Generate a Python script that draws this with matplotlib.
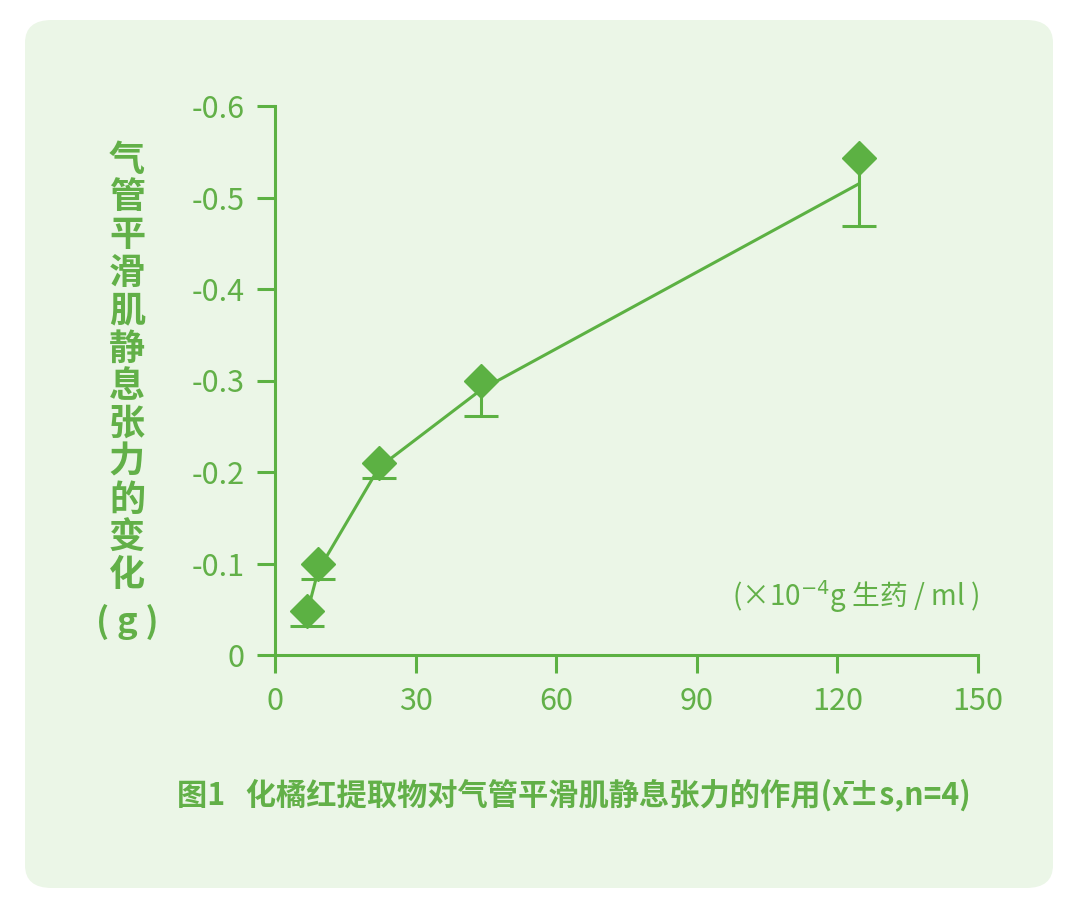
import matplotlib.pyplot as plt
from matplotlib.patches import FancyBboxPatch

plt.rcParams['font.family'] = ['Noto Sans CJK SC', 'DejaVu Sans']

# data
conc = [6.8, 9.2, 22.2, 44.0, 124.6]            # x10^-4 g crude drug / ml
mean = [-0.048, -0.100, -0.210, -0.300, -0.543]  # diamonds
fit = [-0.045, -0.092, -0.205, -0.290, -0.515]   # connecting line
sd_low = [0.016, 0.017, 0.017, 0.039, 0.074]     # lower error (towards 0)

x_ticks = [0, 30, 60, 90, 120, 150]
y_ticks = [0, -0.1, -0.2, -0.3, -0.4, -0.5, -0.6]
y_ticklabels = ['0', '-0.1', '-0.2', '-0.3', '-0.4', '-0.5', '-0.6']

green = '#5cb143'
text_green = '#62b048'

fig = plt.figure(figsize=(10.7, 9.08), dpi=100)
fig.patch.set_facecolor('white')

# rounded background panel
panel = FancyBboxPatch((25 / 1070, 20 / 908), 1028 / 1070, 868 / 908,
                       boxstyle='round,pad=0,rounding_size=0.025',
                       transform=fig.transFigure, facecolor='#ebf6e7',
                       edgecolor='none', zorder=-5)
fig.patches.append(panel)

ax = fig.add_axes([275 / 1070, 1 - 655 / 908, 703 / 1070, 549 / 908])
ax.patch.set_alpha(0)
ax.set_zorder(2)

ax.plot(conc, fit, color=green, lw=2.2, zorder=2)
# one-sided error bars, cap only at the far end
low = [m + s for m, s in zip(mean, sd_low)]
ax.vlines(conc, mean, low, color=green, lw=2.2, zorder=2)
ax.plot(conc, low, linestyle='none', marker='_', markersize=24,
        markeredgewidth=2.2, color=green, zorder=2)
ax.plot(conc, mean, linestyle='none', marker='D', markersize=17,
        color=green, markeredgecolor=green, zorder=3)

ax.set_xlim(0, 150)
ax.set_ylim(0, -0.6)
ax.set_xticks(x_ticks)
ax.set_yticks(y_ticks)
ax.set_yticklabels(y_ticklabels)

for s in ['top', 'right']:
    ax.spines[s].set_visible(False)
for s in ['left', 'bottom']:
    ax.spines[s].set_color(green)
    ax.spines[s].set_linewidth(2.2)
ax.tick_params(colors=green, width=2.2, length=13, labelsize=22,
               labelcolor=text_green, pad=9)

# vertical y label
ylab = '气管平滑肌静息张力的变化'
for i, ch in enumerate(ylab):
    fig.text(127 / 1070, 1 - (160 + i * 37.8) / 908, ch, ha='center',
             va='center', fontsize=26, fontweight='bold', color=text_green)
fig.text(127 / 1070, 1 - 622 / 908, '( g )', ha='center', va='center',
         fontsize=25, fontweight='bold', color=text_green)

fig.text(856 / 1070, 1 - 597 / 908, '(×10$^{-4}$g 生药 / ml )', ha='center',
         va='center', fontsize=20, color=text_green)

fig.text(574 / 1070, 1 - 795 / 908,
         '图1   化橘红提取物对气管平滑肌静息张力的作用(x̄±s,n=4)',
         ha='center', va='center', fontsize=21.8, fontweight='bold',
         color=text_green)

fig.savefig('out.png', dpi=100, facecolor='white')
